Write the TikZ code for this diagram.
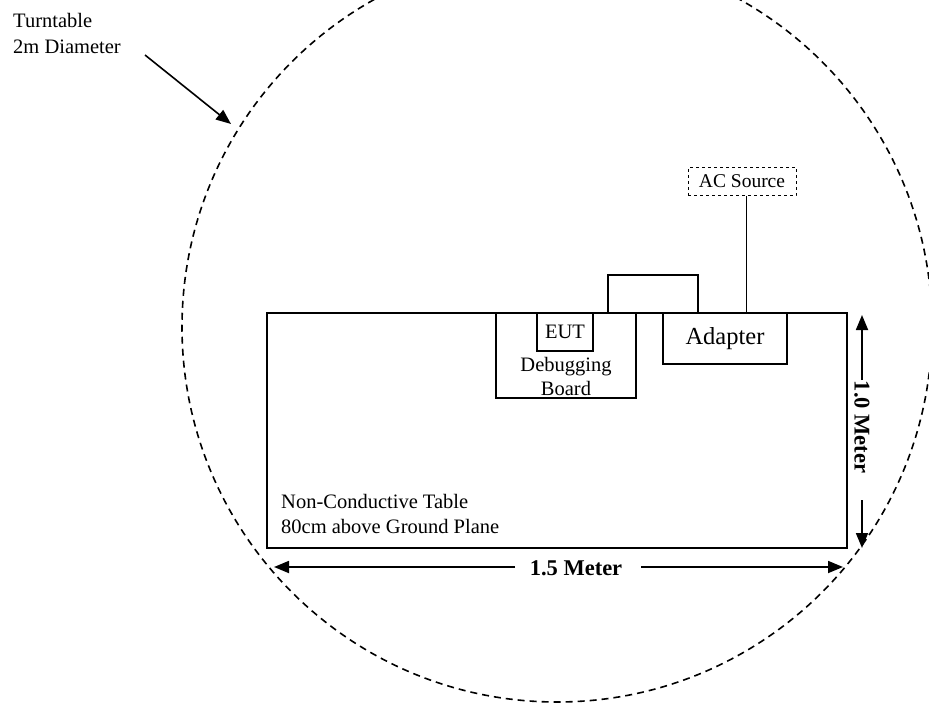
\documentclass[tikz,border=0pt]{standalone}
\usepackage{fontspec}
\setmainfont{Liberation Serif}
\usetikzlibrary{arrows.meta}
\begin{document}
\begin{tikzpicture}[x=1pt,y=-1pt,
  txt/.style={font=\fontsize{20.5}{25}\selectfont, inner sep=0pt},
  bld/.style={font=\fontsize{22.5}{27}\selectfont\bfseries, inner sep=0pt},
  box/.style={draw, line width=2pt, inner sep=0pt},
  arr/.style={line width=1.8pt, -{Triangle[length=15pt,width=12pt]}},
  turn/.style={line width=1.6pt, dash pattern=on 7pt off 5pt},
]
\useasboundingbox (0,0) rectangle (929,707);
\clip (0,0) rectangle (929,707);

% turntable
\draw[turn] (557,327) circle[radius=375pt];

% turntable label
\node[txt, anchor=base west] (tt1) at (13,27) {Turntable};
\node[txt, anchor=base west] (tt2) at (13,53) {2m Diameter};
\coordinate (ttfrom) at (145,55);
\coordinate (ttto) at (231,124);
\draw[arr, line width=1.6pt] (ttfrom) -- (ttto);

% table
\node[box, line width=2.6pt, minimum width=580pt, minimum height=235pt] (table) at (557,430.5) {};
\node[txt, anchor=base west] (tl1) at (281,508) {Non-Conductive Table};
\node[txt, anchor=base west] (tl2) at (281,533) {80cm above Ground Plane};

% debugging board and EUT
\node[box, minimum width=140pt, minimum height=85pt] (board) at (566,355.5) {};
\node[box, line width=1.4pt, minimum width=56pt, minimum height=38pt, txt] (eut) at (565,332) {EUT};
\node[txt, align=center, font=\fontsize{20.5}{24}\selectfont] (boardtxt) at (566,376) {Debugging\\Board};

% adapter
\node[box, minimum width=124pt, minimum height=51pt, font=\fontsize{24.5}{28}\selectfont] (adapter) at (725,338.5) {Adapter};

% AC source
\node[draw, dashed, line width=1pt, inner sep=0pt, minimum width=108pt, minimum height=28.5pt,
      font=\fontsize{19.5}{23}\selectfont] (ac) at (742,181.5) {AC Source};
\draw[line width=1pt] ([xshift=4pt]ac.south) -- ([xshift=4pt]ac.south |- table.north);

% cable between board and adapter
\coordinate (c1) at (608,313);
\coordinate (c2) at (698,313);
\draw[line width=2pt] (c1) -- ++(0,-38) -| (c2);

% 1.0 meter dimension
\coordinate (vtop) at (862,315);
\coordinate (vbot) at (862,548);
\coordinate (vg1) at (862,380);
\coordinate (vg2) at (862,500);
\node[bld, rotate=-90] (vlab) at (862,427) {1.0 Meter};
\draw[arr] (vg1) -- (vtop);
\draw[arr] (vg2) -- (vbot);

% 1.5 meter dimension
\coordinate (hl) at (274,567);
\coordinate (hr) at (843,567);
\coordinate (hg1) at (515,567);
\coordinate (hg2) at (641,567);
\node[bld] (hlab) at (576,568) {1.5 Meter};
\draw[arr] (hg1) -- (hl);
\draw[arr] (hg2) -- (hr);
\end{tikzpicture}
\end{document}
